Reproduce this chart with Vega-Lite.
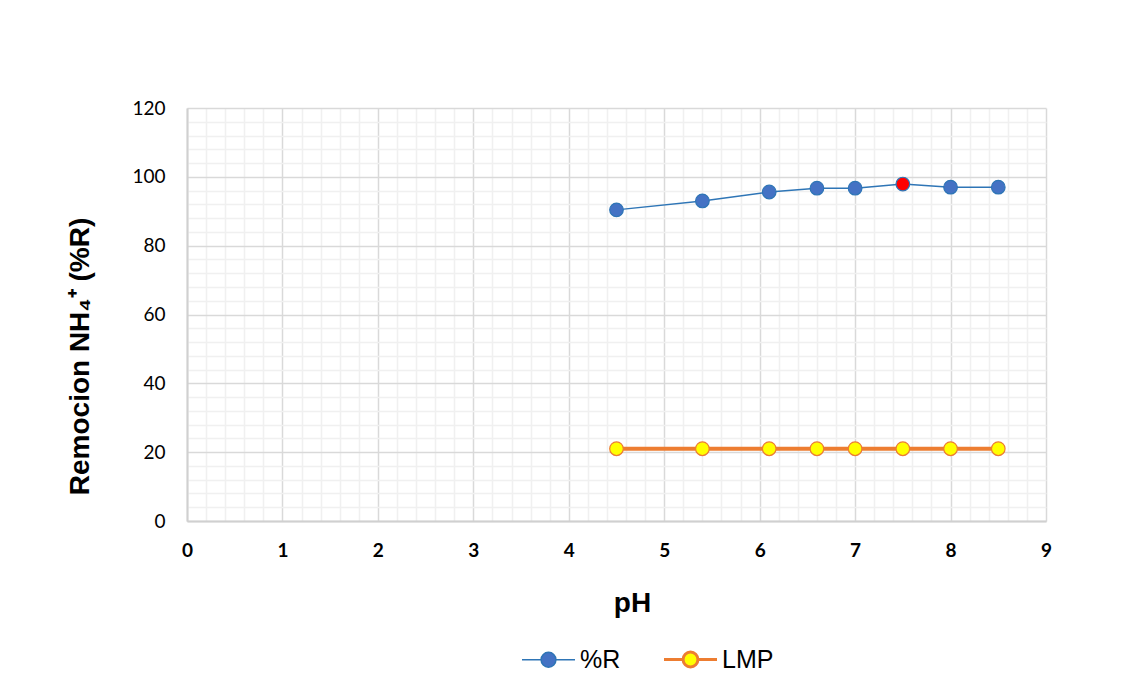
{
  "$schema": "https://vega.github.io/schema/vega-lite/v6.json",
  "width": 859,
  "height": 413,
  "autosize": {"type": "none"},
  "padding": {"left": 187, "top": 108, "right": 81, "bottom": 176},
  "background": "white",
  "config": {
    "view": {"stroke": null},
    "axis": {"ticks": false},
    "legend": {
      "title": null,
      "orient": "none",
      "direction": "horizontal",
      "legendX": 349,
      "legendY": 539,
      "symbolType": "M-1,0L-0.28,0M0.28,0L1,0M0.28,0A0.28,0.28,0,1,1,-0.28,0A0.28,0.28,0,1,1,0.28,0Z",
      "symbolSize": 2809,
      "symbolOpacity": 1,
      "labelFont": "Liberation Sans",
      "labelFontSize": 25,
      "labelColor": "black",
      "labelOffset": 19,
      "columnPadding": 37
    }
  },
  "data": {
    "values": [
      {"pH": 4.5, "valor": 90.4, "serie": "%R"},
      {"pH": 5.4, "valor": 93.0, "serie": "%R"},
      {"pH": 6.1, "valor": 95.6, "serie": "%R"},
      {"pH": 6.6, "valor": 96.7, "serie": "%R"},
      {"pH": 7.0, "valor": 96.7, "serie": "%R"},
      {"pH": 7.5, "valor": 97.9, "serie": "%R"},
      {"pH": 8.0, "valor": 97.0, "serie": "%R"},
      {"pH": 8.5, "valor": 97.0, "serie": "%R"},
      {"pH": 4.5, "valor": 21, "serie": "LMP"},
      {"pH": 5.4, "valor": 21, "serie": "LMP"},
      {"pH": 6.1, "valor": 21, "serie": "LMP"},
      {"pH": 6.6, "valor": 21, "serie": "LMP"},
      {"pH": 7.0, "valor": 21, "serie": "LMP"},
      {"pH": 7.5, "valor": 21, "serie": "LMP"},
      {"pH": 8.0, "valor": 21, "serie": "LMP"},
      {"pH": 8.5, "valor": 21, "serie": "LMP"}
    ]
  },
  "encoding": {
    "x": {
      "field": "pH",
      "type": "quantitative",
      "scale": {"domain": [0, 9], "nice": false, "zero": false},
      "axis": {
        "title": "pH",
        "titleFont": "Liberation Sans",
        "titleFontSize": 28,
        "titleFontWeight": "bold",
        "titleColor": "black",
        "titleX": 445,
        "titleY": 82,
        "titleBaseline": "middle",
        "titleAlign": "center",
        "values": [0,0.2,0.4,0.6,0.8,1,1.2,1.4,1.6,1.8,2,2.2,2.4,2.6,2.8,3,3.2,3.4,3.6,3.8,4,4.2,4.4,4.6,4.8,5,5.2,5.4,5.6,5.8,6,6.2,6.4,6.6,6.8,7,7.2,7.4,7.6,7.8,8,8.2,8.4,8.6,8.8,9],
        "labelExpr": "abs(datum.value - round(datum.value)) < 0.001 ? format(datum.value, 'd') : ''",
        "labelOverlap": false,
        "labelFlush": false,
        "labelFont": "Lato",
        "labelFontSize": 19,
        "labelFontWeight": "bold",
        "labelColor": "black",
        "labelPadding": 20,
        "grid": true,
        "gridColor": {"condition": {"test": "abs(datum.value - round(datum.value)) < 0.001", "value": "#D9D9D9"}, "value": "#F0F0F0"},
        "gridWidth": 1.5,
        "domainColor": "#D0D0D0",
        "domainWidth": 2
      }
    },
    "y": {
      "field": "valor",
      "type": "quantitative",
      "scale": {"domain": [0, 120], "nice": false},
      "axis": {
        "title": "Remocion NH₄⁺ (%R)",
        "titleFont": "Liberation Sans",
        "titleFontSize": 28,
        "titleFontWeight": "bold",
        "titleColor": "black",
        "titleX": -107,
        "titleY": 248,
        "titleAngle": -90,
        "titleBaseline": "middle",
        "titleAlign": "center",
        "values": [0,4,8,12,16,20,24,28,32,36,40,44,48,52,56,60,64,68,72,76,80,84,88,92,96,100,104,108,112,116,120],
        "labelExpr": "datum.value % 20 === 0 ? datum.label : ''",
        "labelOverlap": false,
        "labelFlush": false,
        "labelFont": "Lato",
        "labelFontSize": 19,
        "labelColor": "black",
        "labelPadding": 22,
        "grid": true,
        "gridColor": {"condition": {"test": "datum.value % 20 === 0", "value": "#D9D9D9"}, "value": "#F0F0F0"},
        "gridWidth": 1.5,
        "domainColor": "#D0D0D0",
        "domainWidth": 2
      }
    }
  },
  "layer": [
    {
      "mark": {"type": "line"},
      "encoding": {
        "stroke": {
          "field": "serie",
          "type": "nominal",
          "scale": {"domain": ["%R", "LMP"], "range": ["#2E75B6", "#ED7D31"]},
          "legend": {
            "encode": {
              "symbols": {"update": {"strokeWidth": {"signal": "datum.label === 'LMP' ? 3 : 1.5"}}}
            }
          }
        },
        "strokeWidth": {"condition": {"test": "datum.serie === 'LMP'", "value": 4}, "value": 1.5}
      }
    },
    {
      "mark": {"type": "point", "filled": true, "shape": "circle", "size": 185, "opacity": 1, "strokeWidth": 1.2},
      "encoding": {
        "stroke": {
          "field": "serie",
          "type": "nominal",
          "scale": {"domain": ["%R", "LMP"], "range": ["#2E75B6", "#ED7D31"]},
          "legend": {
            "encode": {
              "symbols": {"update": {"strokeWidth": {"signal": "datum.label === 'LMP' ? 3 : 1.5"}}}
            }
          }
        },
        "fill": {
          "condition": {"test": "datum.serie === '%R' && datum.pH === 7.5", "value": "#FF0000"},
          "field": "serie",
          "type": "nominal",
          "scale": {"domain": ["%R", "LMP"], "range": ["#4472C4", "#FFFF00"]},
          "legend": {
            "encode": {
              "symbols": {"update": {"strokeWidth": {"signal": "datum.label === 'LMP' ? 3 : 1.5"}}}
            }
          }
        }
      }
    }
  ]
}
